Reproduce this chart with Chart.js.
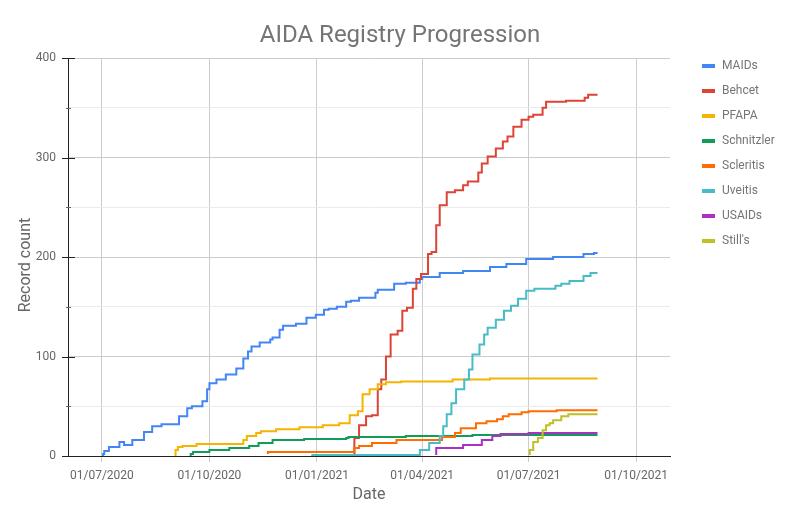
<!DOCTYPE html>
<html>
<head>
<meta charset="utf-8">
<title>AIDA Registry Progression</title>
<script src="https://cdn.jsdelivr.net/npm/chart.js@4"></script>
<style>
  html, body { margin: 0; padding: 0; background: #fff; }
  #chart { display: block; }
</style>
</head>
<body>
<canvas id="chart" width="807" height="511"></canvas>
<script>
// legend order
const seriesNames = ['MAIDs', 'Behcet', 'PFAPA', 'Schnitzler', 'Scleritis', 'Uveitis', 'USAIDs', "Still's"];
const seriesColors = ['#4285f4', '#db4437', '#f4b400', '#0f9d58', '#ff6d00', '#46bdc6', '#ab30c4', '#c1bf26'];

const xTickLabels = ['01/07/2020', '01/10/2020', '01/01/2021', '01/04/2021', '01/07/2021', '01/10/2021'];
const xRange = ['2020-06-02', '2021-10-30'];
const yRange = [0, 400];

// cumulative record counts
const maidsDates = ['2020-07-02', '2020-07-03', '2020-07-07', '2020-07-16', '2020-07-20', '2020-07-27', '2020-08-06',
  '2020-08-13', '2020-08-21', '2020-09-05', '2020-09-12', '2020-09-16', '2020-09-25', '2020-09-29', '2020-10-01',
  '2020-10-07', '2020-10-15', '2020-10-24', '2020-10-30', '2020-11-03', '2020-11-06', '2020-11-13', '2020-11-22',
  '2020-11-24', '2020-11-30', '2020-12-03', '2020-12-14', '2020-12-23', '2020-12-31', '2021-01-07', '2021-01-11',
  '2021-01-18', '2021-01-26', '2021-01-30', '2021-02-06', '2021-02-20', '2021-02-22', '2021-03-08', '2021-03-18',
  '2021-03-30', '2021-04-01', '2021-04-16', '2021-05-06', '2021-05-29', '2021-06-12', '2021-06-29', '2021-07-22',
  '2021-08-17', '2021-08-26', '2021-08-29'];
const maidsCounts = [0, 2, 5, 9, 14, 11, 16, 24, 30, 32, 40, 48, 50, 55, 67, 73, 77, 82, 88, 98, 105, 110, 114,
  117, 119, 127, 131, 133, 139, 142, 147, 148, 150, 155, 156, 159, 164, 167, 173, 174, 178, 180, 184, 186, 190,
  193, 198, 200, 203, 204];

const behcetDates = ['2021-02-02', '2021-02-06', '2021-02-12', '2021-02-17', '2021-02-22', '2021-02-25', '2021-03-01',
  '2021-03-05', '2021-03-11', '2021-03-15', '2021-03-19', '2021-03-24', '2021-03-27', '2021-03-31', '2021-04-06',
  '2021-04-09', '2021-04-13', '2021-04-16', '2021-04-22', '2021-04-29', '2021-05-06', '2021-05-10', '2021-05-19',
  '2021-05-22', '2021-05-27', '2021-06-03', '2021-06-09', '2021-06-13', '2021-06-18', '2021-06-25', '2021-07-01',
  '2021-07-05', '2021-07-13', '2021-07-16', '2021-08-02', '2021-08-18', '2021-08-21', '2021-08-29'];
const behcetCounts = [1, 18, 31, 40, 41, 67, 77, 100, 122, 126, 146, 149, 168, 178, 183, 203, 205, 232, 252, 265,
  267, 272, 276, 285, 294, 301, 309, 316, 321, 331, 338, 341, 343, 350, 356, 357, 360, 363];

const pfapaDates = ['2020-09-02', '2020-09-04', '2020-09-08', '2020-09-20', '2020-10-30', '2020-11-02', '2020-11-10',
  '2020-11-14', '2020-11-27', '2020-12-17', '2021-01-06', '2021-01-20', '2021-01-29', '2021-02-05', '2021-02-09',
  '2021-02-15', '2021-02-22', '2021-03-01', '2021-03-14', '2021-04-27', '2021-05-29', '2021-07-08', '2021-08-29'];
const pfapaCounts = [0, 6, 9, 10, 12, 16, 20, 23, 25, 27, 29, 31, 33, 41, 45, 62, 67, 72, 74, 75, 77, 78, 78];

const schnitzlerDates = ['2020-09-15', '2020-09-17', '2020-10-01', '2020-10-18', '2020-11-04', '2020-11-12',
  '2020-11-24', '2020-12-21', '2021-01-26', '2021-01-28', '2021-03-18', '2021-05-14', '2021-07-10', '2021-08-29'];
const schnitzlerCounts = [0, 2, 4, 6, 8, 10, 13, 16, 17, 18, 19, 20, 21, 21];

const scleritisDates = ['2020-11-20', '2020-12-03', '2021-02-02', '2021-02-06', '2021-02-17', '2021-03-10',
  '2021-04-18', '2021-04-29', '2021-05-04', '2021-05-17', '2021-05-26', '2021-06-04', '2021-06-09', '2021-06-14',
  '2021-06-25', '2021-07-01', '2021-07-25', '2021-08-11', '2021-08-29'];
const scleritisCounts = [2, 4, 4, 8, 10, 13, 16, 19, 23, 28, 33, 35, 37, 40, 42, 44, 45, 46, 46];

const uveitisDates = ['2020-12-28', '2021-03-30', '2021-04-07', '2021-04-16', '2021-04-19', '2021-04-22',
  '2021-04-26', '2021-04-30', '2021-05-07', '2021-05-11', '2021-05-14', '2021-05-20', '2021-05-24', '2021-05-27',
  '2021-06-03', '2021-06-10', '2021-06-16', '2021-06-22', '2021-06-29', '2021-07-06', '2021-07-24', '2021-07-29',
  '2021-08-05', '2021-08-17', '2021-08-23', '2021-08-29'];
const uveitisCounts = [0, 1, 6, 13, 20, 30, 42, 53, 67, 77, 87, 102, 112, 122, 129, 137, 146, 151, 158, 166, 168,
  171, 173, 176, 181, 184];

const usaidsDates = ['2021-04-13', '2021-05-06', '2021-05-22', '2021-05-31', '2021-06-07', '2021-07-01',
  '2021-08-25', '2021-08-29'];
const usaidsCounts = [1, 8, 11, 16, 20, 22, 23, 23];

const stillsDates = ['2021-07-02', '2021-07-05', '2021-07-09', '2021-07-13', '2021-07-16', '2021-07-19',
  '2021-07-22', '2021-07-29', '2021-08-04', '2021-08-14', '2021-08-29'];
const stillsCounts = [1, 6, 14, 18, 26, 31, 33, 36, 40, 42, 42];

const seriesDates = [maidsDates, behcetDates, pfapaDates, schnitzlerDates, scleritisDates, uveitisDates, usaidsDates, stillsDates];
const seriesCounts = [maidsCounts, behcetCounts, pfapaCounts, schnitzlerCounts, scleritisCounts, uveitisCounts, usaidsCounts, stillsCounts];

function isoTime(s) {
  const [y, m, d] = s.split('-').map(Number);
  return Date.UTC(y, m - 1, d);
}
function labelTime(s) {
  const [d, m, y] = s.split('/').map(Number);
  return Date.UTC(y, m - 1, d);
}

const textGrey = '#666666';
const axisBlack = '#222222';

const datasets = seriesNames.map((name, i) => ({
  label: name,
  data: seriesDates[i].map((d, j) => ({ x: isoTime(d), y: seriesCounts[i][j] })),
  borderColor: seriesColors[i],
  backgroundColor: seriesColors[i],
  borderWidth: 2,
  pointRadius: 0,
  stepped: 'after',
  fill: false,
  order: seriesNames.length - i // later series on top, like the original
}));

// title, legend, y title and the small axis ticks
const decor = {
  id: 'decor',
  afterDraw(chart) {
    const { ctx, scales, chartArea } = chart;
    const y = scales.y;
    ctx.save();

    y.ticks.forEach(t => {
      const py = Math.round(y.getPixelForValue(t.value)) + 0.5;
      const major = t.value % 100 === 0;
      ctx.strokeStyle = major ? axisBlack : '#666';
      ctx.lineWidth = 1;
      ctx.beginPath();
      ctx.moveTo(major ? 62 : 66, py);
      ctx.lineTo(major ? 75 : 71, py);
      ctx.stroke();
    });

    ctx.fillStyle = '#757575';
    ctx.font = '24px Roboto';
    ctx.textAlign = 'center';
    ctx.textBaseline = 'alphabetic';
    ctx.fillText('AIDA Registry Progression', 400, 42);

    ctx.fillStyle = textGrey;
    ctx.font = '16px Roboto';
    ctx.textBaseline = 'middle';
    ctx.fillText('Date', (chartArea.left + chartArea.right) / 2, 495);

    ctx.save();
    ctx.translate(26, 265);
    ctx.rotate(-Math.PI / 2);
    ctx.fillText('Record count', 0, 0);
    ctx.restore();

    ctx.font = '12px Roboto';
    ctx.textAlign = 'left';
    chart.data.datasets.forEach((ds, i) => {
      const cy = 66 + i * 25;
      ctx.fillStyle = ds.borderColor;
      ctx.fillRect(702, cy - 2, 13, 4);
      ctx.fillStyle = '#757575';
      ctx.fillText(ds.label, 722, cy);
    });

    ctx.restore();
  }
};

new Chart(document.getElementById('chart'), {
  type: 'line',
  data: { datasets },
  plugins: [decor],
  options: {
    responsive: false,
    animation: false,
    layout: { padding: { top: 58, right: 137, left: 0, bottom: 0 } },
    plugins: {
      legend: { display: false },
      title: { display: false },
      tooltip: { enabled: false }
    },
    scales: {
      x: {
        type: 'linear',
        min: isoTime(xRange[0]),
        max: isoTime(xRange[1]),
        afterBuildTicks: s => { s.ticks = xTickLabels.map(l => ({ value: labelTime(l) })); },
        afterFit: s => { s.height = 55; },
        ticks: {
          callback: (v, i) => xTickLabels[i],
          color: textGrey,
          font: { family: 'Roboto', size: 12 },
          padding: 7,
          maxRotation: 0,
          autoSkip: false
        },
        grid: { color: '#cccccc', tickColor: '#cccccc', tickLength: 6 },
        border: { color: axisBlack }
      },
      y: {
        min: yRange[0],
        max: yRange[1],
        afterFit: s => { s.width = 68; },
        ticks: {
          stepSize: 50,
          callback: v => (v % 100 === 0 ? v : ''),
          color: textGrey,
          font: { family: 'Roboto', size: 12 },
          padding: 12
        },
        grid: {
          color: ctx => (ctx.tick.value === 0 ? axisBlack : ctx.tick.value % 100 === 0 ? '#cccccc' : '#ebebeb'),
          drawTicks: false
        },
        border: { color: axisBlack }
      }
    }
  }
});
</script>
</body>
</html>
